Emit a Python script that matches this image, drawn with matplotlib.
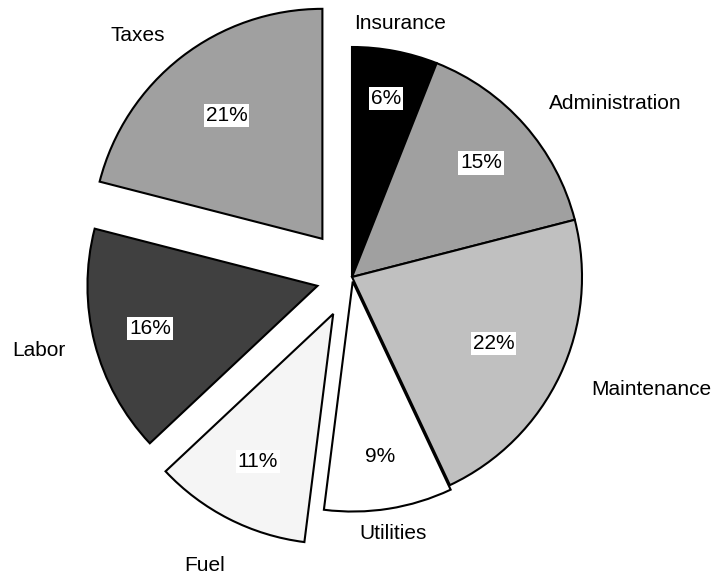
import numpy as np
import matplotlib.pyplot as plt

plt.rcParams['font.family'] = ['Liberation Sans', 'DejaVu Sans']

# operating cost breakdown, clockwise from the top
categories = ['Insurance', 'Administration', 'Maintenance', 'Utilities', 'Fuel', 'Labor', 'Taxes']
shares = [6, 15, 22, 9, 11, 16, 21]
explode = [0, 0, 0, 0.02, 0.18, 0.155, 0.21]
colors = ['#000000', '#a0a0a0', '#c0c0c0', '#ffffff', '#f5f5f5', '#404040', '#a0a0a0']

# per-slice text placement (fraction of radius from each slice's apex)
pct_dist = [0.79, 0.75, 0.68, 0.77, 0.72, 0.75, 0.68]
label_dist = [1.12, 1.14, 1.15, 1.11, 1.23, 1.13, 1.12]
label_ha = ['center', 'left', 'left', 'center', 'center', 'right', 'right']

fig = plt.figure(figsize=(7.23, 5.75), dpi=100)
ax = fig.add_axes([0, 0, 1, 1])

wedges, texts, autotexts = ax.pie(
    shares, labels=categories, colors=colors, explode=explode,
    startangle=90, counterclock=False,
    autopct='%1.0f%%',
    wedgeprops=dict(edgecolor='black', linewidth=1.5),
    textprops=dict(fontsize=15, color='black'),
)

for w, t, pt, pd_, ld, ha in zip(wedges, texts, autotexts, pct_dist, label_dist, label_ha):
    mid = np.deg2rad((w.theta1 + w.theta2) / 2)
    cx, cy = w.center
    direction = np.array([np.cos(mid), np.sin(mid)])
    pt.set_position((cx + pd_ * w.r * direction[0], cy + pd_ * w.r * direction[1]))
    pt.set_bbox(dict(facecolor='white', edgecolor='none', pad=1.5))
    t.set_position((cx + ld * w.r * direction[0], cy + ld * w.r * direction[1]))
    t.set_horizontalalignment(ha)
    t.set_verticalalignment('center')

# pie radius 1 -> 230 px, centre at (352, 277) px from the top-left corner
px = 230.0
ax.set_aspect('auto')
ax.set_xlim(-352 / px, (723 - 352) / px)
ax.set_ylim(-(575 - 277) / px, 277 / px)
ax.axis('off')

fig.savefig('out.png', dpi=100, facecolor='white')
